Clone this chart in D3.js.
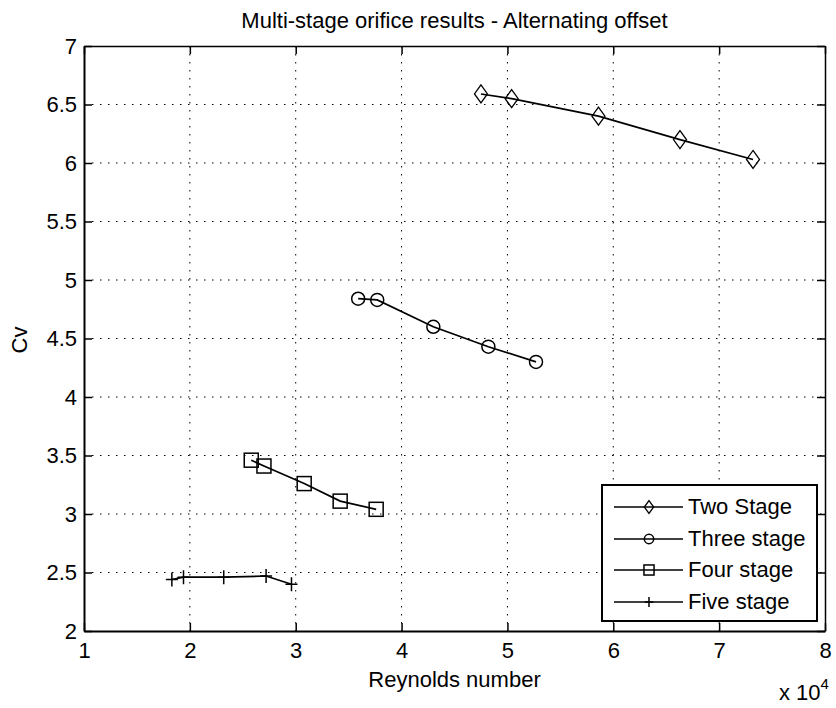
<!DOCTYPE html>
<html><head><meta charset="utf-8">
<script src="https://cdn.jsdelivr.net/npm/d3@7"></script>
<style>
body{margin:0;background:#fff;}
text{font-family:"Liberation Sans",Arial,sans-serif;fill:#000;}
</style></head>
<body><svg id="c" width="836" height="708"></svg>
<script>
const seriesNames = ["Two Stage","Three stage","Four stage","Five stage"];
const markers = ["diamond","circle","square","plus"];
const twoX = [4.75,5.04,5.86,6.63,7.32];
const twoY = [6.59,6.55,6.40,6.20,6.03];
const threeX = [3.59,3.77,4.30,4.82,5.27];
const threeY = [4.84,4.83,4.60,4.43,4.30];
const fourX = [2.58,2.70,3.08,3.42,3.76];
const fourY = [3.46,3.41,3.26,3.11,3.04];
const fiveX = [1.83,1.94,2.32,2.72,2.96];
const fiveY = [2.44,2.46,2.46,2.47,2.40];
const xTicks = [1,2,3,4,5,6,7,8];
const yTicks = [2,2.5,3,3.5,4,4.5,5,5.5,6,6.5,7];

const series = [
  {name:seriesNames[0], m:markers[0], xs:twoX, ys:twoY},
  {name:seriesNames[1], m:markers[1], xs:threeX, ys:threeY},
  {name:seriesNames[2], m:markers[2], xs:fourX, ys:fourY},
  {name:seriesNames[3], m:markers[3], xs:fiveX, ys:fiveY}
];

const L=84, R=825, T=46, B=631;
const svg=d3.select("#c");
const x=d3.scaleLinear().domain([1,8]).range([L,R]);
const y=d3.scaleLinear().domain([2,7]).range([B,T]);
const FS=22;
const FF="Liberation Sans, Arial, sans-serif";

// grid
const grid=svg.append("g");
xTicks.slice(1,-1).forEach(t=>grid.append("line").attr("x1",x(t)).attr("x2",x(t)).attr("y1",T).attr("y2",B)
  .attr("stroke","#000").attr("stroke-width",1).attr("stroke-dasharray","1.5 6.5"));
yTicks.slice(1,-1).forEach(t=>grid.append("line").attr("x1",L).attr("x2",R).attr("y1",y(t)).attr("y2",y(t))
  .attr("stroke","#000").attr("stroke-width",1).attr("stroke-dasharray","1.5 6.5"));

const tl=-8;
svg.append("g").attr("transform",`translate(0,${B})`)
  .call(d3.axisBottom(x).tickValues(xTicks).tickFormat(d3.format("d")).tickSizeInner(tl).tickSizeOuter(0).tickPadding(11))
  .call(g=>{g.select(".domain").attr("stroke-width",2);g.selectAll(".tick line").attr("stroke-width",1.5);
    g.selectAll("text").attr("font-size",FS).attr("font-family",FF).attr("fill","#000");});
svg.append("g").attr("transform",`translate(${L},0)`)
  .call(d3.axisLeft(y).tickValues(yTicks).tickFormat(d=>String(d)).tickSizeInner(tl).tickSizeOuter(0).tickPadding(7))
  .call(g=>{g.select(".domain").attr("stroke-width",2);g.selectAll(".tick line").attr("stroke-width",1.5);
    g.selectAll("text").attr("font-size",FS).attr("font-family",FF).attr("fill","#000");});
svg.append("g").attr("transform",`translate(0,${T})`)
  .call(d3.axisTop(x).tickValues(xTicks).tickFormat("").tickSizeInner(tl).tickSizeOuter(0))
  .call(g=>{g.select(".domain").attr("stroke-width",1.5);g.selectAll(".tick line").attr("stroke-width",1.5);});
svg.append("g").attr("transform",`translate(${R},0)`)
  .call(d3.axisRight(y).tickValues(yTicks).tickFormat("").tickSizeInner(tl).tickSizeOuter(0))
  .call(g=>{g.select(".domain").attr("stroke-width",1.5);g.selectAll(".tick line").attr("stroke-width",1.5);});

function drawMarker(g,type,cx,cy,s){
  if(type==="diamond"){
    g.append("path").attr("d",`M${cx},${cy-9*s}L${cx+6.5*s},${cy}L${cx},${cy+9*s}L${cx-6.5*s},${cy}Z`)
      .attr("fill","none").attr("stroke","#000").attr("stroke-width",1.3);
  } else if(type==="circle"){
    g.append("circle").attr("cx",cx).attr("cy",cy).attr("r",6.5*s).attr("fill","none").attr("stroke","#000").attr("stroke-width",1.5);
  } else if(type==="square"){
    g.append("rect").attr("x",cx-7*s).attr("y",cy-7*s).attr("width",14*s).attr("height",14*s)
      .attr("fill","none").attr("stroke","#000").attr("stroke-width",1.5);
  } else {
    g.append("path").attr("d",`M${cx-6*s},${cy}L${cx+6*s},${cy}M${cx},${cy-7*s}L${cx},${cy+7*s}`)
      .attr("fill","none").attr("stroke","#000").attr("stroke-width",1.5);
  }
}

const line=d3.line().x(d=>x(d[0])).y(d=>y(d[1]));
series.forEach(s=>{
  const pts=s.xs.map((v,i)=>[v,s.ys[i]]);
  const g=svg.append("g");
  g.append("path").attr("d",line(pts)).attr("fill","none").attr("stroke","#000").attr("stroke-width",1.7);
  pts.forEach(p=>drawMarker(g,s.m,x(p[0]),y(p[1]),1));
});

svg.append("text").attr("x",(L+R)/2).attr("y",28).attr("text-anchor","middle").attr("font-size",FS)
  .text("Multi-stage orifice results - Alternating offset");
svg.append("text").attr("x",(L+R)/2).attr("y",687).attr("text-anchor","middle").attr("font-size",FS).text("Reynolds number");
svg.append("text").attr("transform","translate(27,340) rotate(-90)").attr("text-anchor","middle").attr("font-size",FS).text("Cv");
const ex=svg.append("text").attr("x",779).attr("y",700).attr("font-size",FS);
ex.append("tspan").text("x 10");
ex.append("tspan").attr("dy",-11).attr("font-size",15).text("4");

const lg=svg.append("g");
lg.append("rect").attr("x",602).attr("y",485).attr("width",215).attr("height",136).attr("fill","#fff").attr("stroke","#000").attr("stroke-width",2);
const rowY=[507,539,570,602];
series.forEach((s,i)=>{
  const yy=rowY[i];
  lg.append("line").attr("x1",614).attr("x2",683).attr("y1",yy).attr("y2",yy).attr("stroke","#000").attr("stroke-width",1.6);
  drawMarker(lg,s.m,649,yy,0.72);
  lg.append("text").attr("x",688).attr("y",yy+7).attr("font-size",FS).text(s.name);
});
</script></body></html>
